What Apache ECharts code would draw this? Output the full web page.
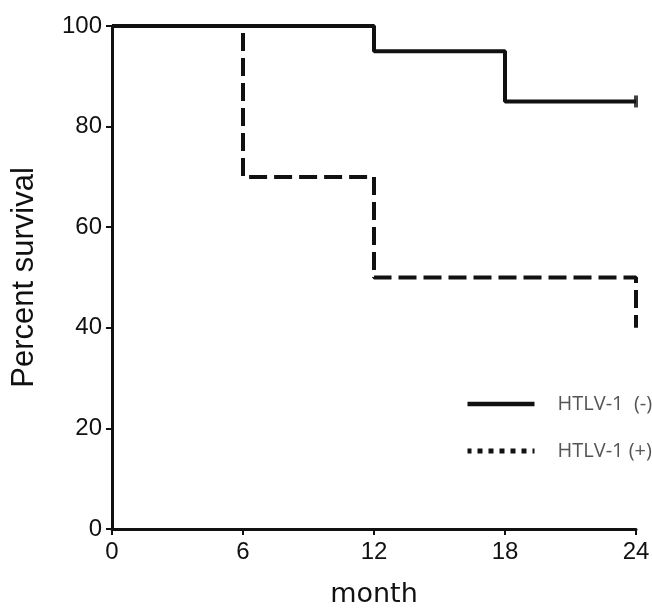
<!DOCTYPE html>
<html>
<head>
<meta charset="utf-8">
<script src="https://cdn.jsdelivr.net/npm/echarts@6/dist/echarts.min.js"></script>
<style>
  html, body { margin: 0; padding: 0; background: #fff; }
  #chart { width: 652px; height: 608px; }
</style>
</head>
<body>
<div id="chart"></div>
<script>
// survival steps [month, percent]
var negSteps = [[0, 100], [12, 95], [18, 85], [24, 85]];
var posSteps = [[0, 100], [6, 70], [12, 50], [24, 50], [24, 40]];
// censored observation on the HTLV-1 (-) curve
var negCensored = [[24, 85]];
var xTicks = [0, 6, 12, 18, 24];
var yTicks = [0, 20, 40, 60, 80, 100];
var seriesNames = ["HTLV-1  (-)", "HTLV-1 (+)"];

var chart = echarts.init(document.getElementById("chart"));

var axisFont = { color: "#111", fontSize: 24, fontFamily: "Liberation Sans, Arial, sans-serif" };

chart.setOption({
  animation: false,
  grid: { left: 112, right: 16, top: 26, bottom: 79, outerBoundsMode: "none", containLabel: false },
  legend: {
    orient: "vertical",
    left: 460,
    top: 387,
    itemWidth: 67,
    itemHeight: 14,
    itemGap: 23,
    itemStyle: { opacity: 0 },
    data: [
      { name: seriesNames[0], lineStyle: { type: "solid", width: 4.5 } },
      { name: seriesNames[1], lineStyle: { type: [5, 6], width: 5 } }
    ],
    textStyle: {
      color: "#555",
      fontSize: 20,
      lineHeight: 24,
      fontFamily: "Open Sans, sans-serif",
      padding: [0, 0, 0, 18]
    }
  },
  xAxis: {
    type: "value",
    min: 0,
    max: 24,
    interval: 6,
    name: "month",
    nameLocation: "middle",
    nameGap: 52,
    nameTextStyle: { color: "#111", fontSize: 27, fontFamily: "DejaVu Sans, sans-serif" },
    axisLine: { show: true, onZero: false, lineStyle: { color: "#111", width: 3 } },
    axisTick: { show: true, length: 6, lineStyle: { color: "#111", width: 2 } },
    axisLabel: Object.assign({ margin: 11, formatter: function (v) { return xTicks.indexOf(v) >= 0 ? v : ""; } }, axisFont),
    splitLine: { show: false }
  },
  yAxis: {
    type: "value",
    min: 0,
    max: 100,
    interval: 20,
    name: "Percent survival",
    nameLocation: "middle",
    nameGap: 72,
    nameTextStyle: { color: "#111", fontSize: 31, fontFamily: "Liberation Sans, Arial, sans-serif" },
    axisLine: { show: true, lineStyle: { color: "#111", width: 3 } },
    axisTick: { show: true, length: 6, lineStyle: { color: "#111", width: 2 } },
    axisLabel: Object.assign({ margin: 10, formatter: function (v) { return yTicks.indexOf(v) >= 0 ? v : ""; } }, axisFont),
    splitLine: { show: false }
  },
  series: [
    {
      name: seriesNames[0],
      type: "line",
      step: "end",
      symbol: "none",
      data: negSteps,
      lineStyle: { color: "#111", width: 4, type: "solid" },
      itemStyle: { color: "#111" },
      z: 3
    },
    {
      name: seriesNames[1],
      type: "line",
      step: "end",
      symbol: "none",
      data: posSteps,
      lineStyle: { color: "#111", width: 4, type: [18, 7], dashOffset: 12 },
      itemStyle: { color: "#111" },
      z: 2
    },
    {
      name: "censored",
      type: "scatter",
      symbol: "rect",
      symbolSize: [4, 12],
      data: negCensored,
      itemStyle: { color: "#111" },
      z: 4
    }
  ]
});
</script>
</body>
</html>
